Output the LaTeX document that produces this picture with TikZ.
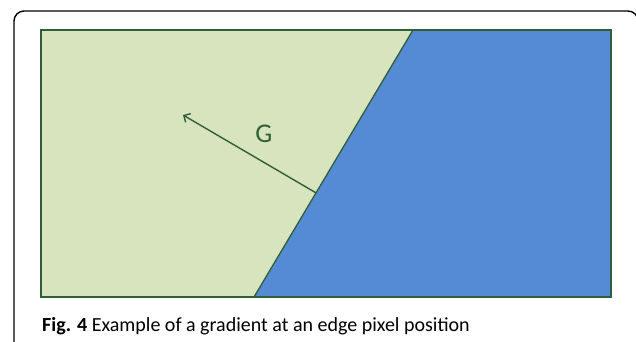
\documentclass[tikz,border=0pt]{standalone}
\usepackage{fontspec}
\setmainfont{Carlito}
\usetikzlibrary{arrows.meta,calc}
\definecolor{lgreen}{HTML}{D7E4BD}
\definecolor{eblue}{HTML}{558AD5}
\definecolor{dgreen}{HTML}{2F5F3A}
\tikzset{
  region/.style={draw=dgreen,line width=1.3pt,line join=miter},
  grad/.style={draw=dgreen,line width=1.4pt,-{Straight Barb[length=5pt,width=10pt]}},
  frame/.style={draw=black,line width=1.4pt,rounded corners=10pt},
}
\begin{document}
\begin{tikzpicture}[x=1pt,y=-1pt]
\useasboundingbox (0,0) rectangle (636,341);
\begin{scope}
\clip (0,0) rectangle (636,341);
\draw[frame] (14,352) rectangle (638,11);
\end{scope}
% corners of the image
\coordinate (tl) at (41,30);
\coordinate (tr) at (611,30);
\coordinate (br) at (611,297);
\coordinate (bl) at (41,297);
\coordinate (et) at (413,30);
\coordinate (eb) at (254,297);
\fill[lgreen] (tl) -- (et) -- (eb) -- (bl) -- cycle;
\fill[eblue] (et) -- (tr) -- (br) -- (eb) -- cycle;
\draw[region] (tl) rectangle (br);
\draw[region] (et) -- (eb);
\coordinate (gs) at ($(et)!0.61!(eb)$);
\coordinate (ge) at (183,115);
\draw[grad] (gs) -- (ge);
\node[text=dgreen,font=\fontsize{27}{30}\selectfont] (G) at (264,134) {G};
\node[anchor=base west,inner sep=0pt,font=\fontsize{20}{24}\selectfont] (cap) at (42,331) {\textbf{Fig. 4} Example of a gradient at an edge pixel position};
\end{tikzpicture}
\end{document}
